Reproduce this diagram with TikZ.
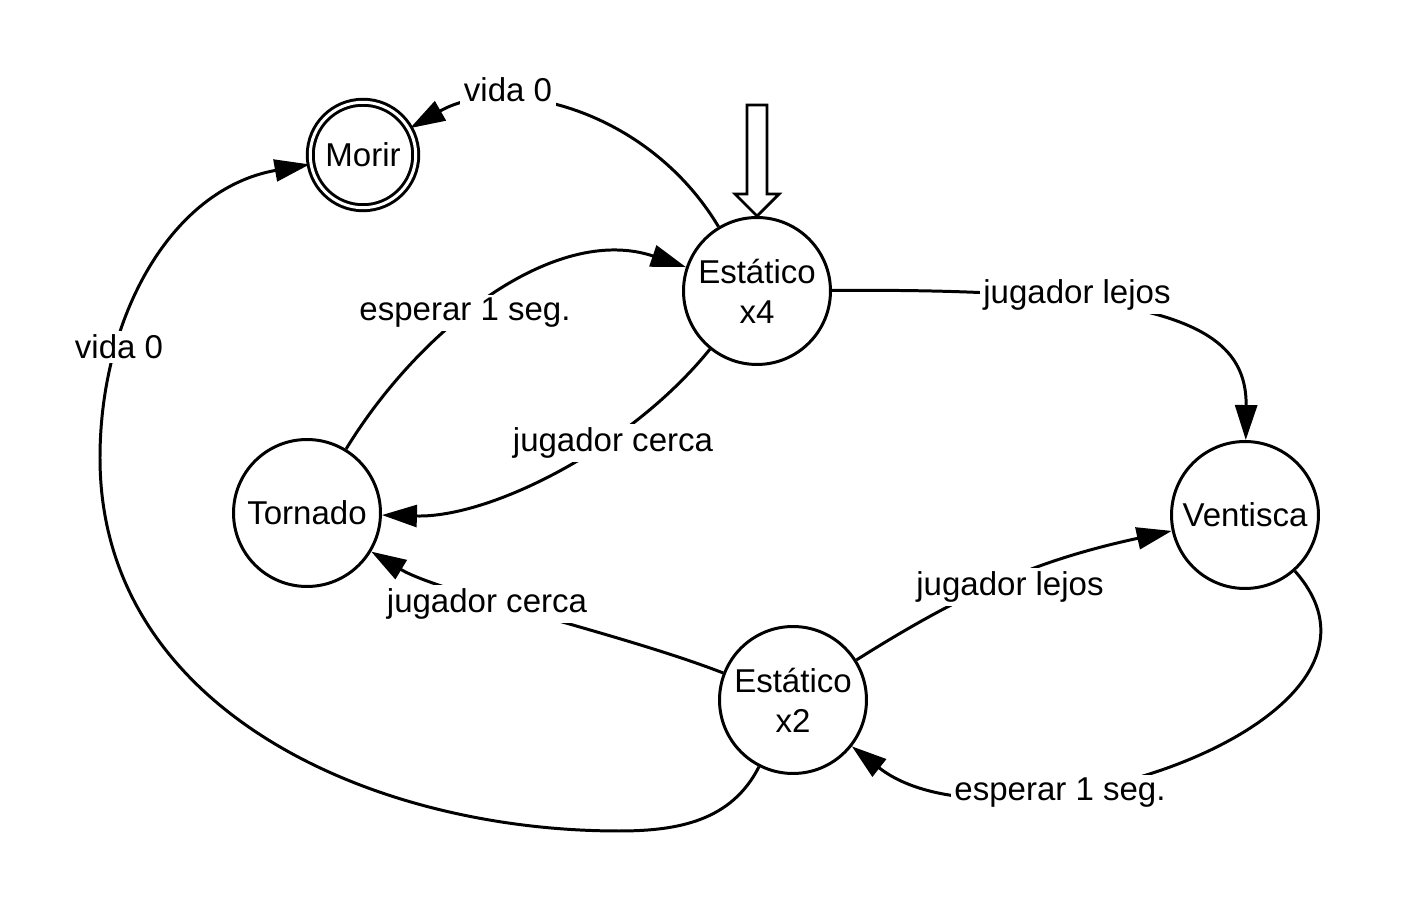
\documentclass[tikz,border=0pt]{standalone}
\usepackage{fontspec}
\setmainfont{Liberation Sans}
\usetikzlibrary{arrows.meta, positioning}

\begin{document}
\begin{tikzpicture}[
    x=0.02cm, y=0.02cm,
    state/.style={circle, draw, line width=1.7pt, minimum size=2.94cm, inner sep=0pt, align=center, font=\fontsize{18.8}{22.8}\selectfont},
    final/.style={state, double, double distance=1.7pt, minimum size=2.11cm},
    arrow/.style={-{Triangle[length=0.7cm, width=0.44cm]}, line width=1.7pt},
    lbl/.style={fill=white, inner sep=2pt, font=\fontsize{18.8}{22.8}\selectfont},
    startarrow/.style={draw, line width=1.6pt, line join=miter}
]
\fill[white] (0,0) rectangle (1401,913);
\useasboundingbox (0,0) rectangle (1401,913);

% states
\node[final] (morir) at (363,758) {Morir};
\node[state] (x4) at (757,622) {Estático\\x4};
\node[state] (tornado) at (307,400) {Tornado};
\node[state] (ventisca) at (1245,398) {Ventisca};
\node[state] (x2) at (793,213) {Estático\\x2};

\coordinate (bottom) at (619,82);
\coordinate (left) at (100,455);

% initial marker
\draw[startarrow] (x4.north) -- ++(22,22) -- ++(-12,0) -- ++(0,89) -- ++(-20,0) -- ++(0,-89) -- ++(-12,0) -- cycle;

% transitions
\draw[arrow] (x4) .. controls (648,804) and (505,839) .. (morir);
\draw[arrow] (tornado) .. controls (420,585) and (555,690) .. (x4);
\draw[arrow] (x4) .. controls (630,465) and (490,395) .. (tornado);
\draw[arrow] (x4) .. controls (1160,625) and (1247,590) .. (ventisca);
\draw[arrow] (x2) .. controls (620,280) and (440,320) .. (tornado);
\draw[arrow] (x2) to[bend left=10] (ventisca);
\draw[arrow] (ventisca) .. controls (1430,190) and (1000,50) .. (x2);
\draw[arrow] (x2.243) to[out=243, in=0] (bottom) to[out=180, in=-90] (left) to[out=90, in=190] (morir);

% labels
\node[lbl] (vidaTop) at (508,823) {vida 0};
\node[lbl] (esperarTop) at (465,600) {esperar 1 seg.};
\node[lbl] (cercaTop) at (613,470) {jugador cerca};
\node[lbl] (lejosTop) at (1077,618) {jugador lejos};
\node[lbl] (cercaBot) at (487,309) {jugador cerca};
\node[lbl] (lejosBot) at (1010,326) {jugador lejos};
\node[lbl] (esperarBot) at (1060,120) {esperar 1 seg.};
\node[lbl] (vidaLeft) at (119,566) {vida 0};

\end{tikzpicture}
\end{document}
